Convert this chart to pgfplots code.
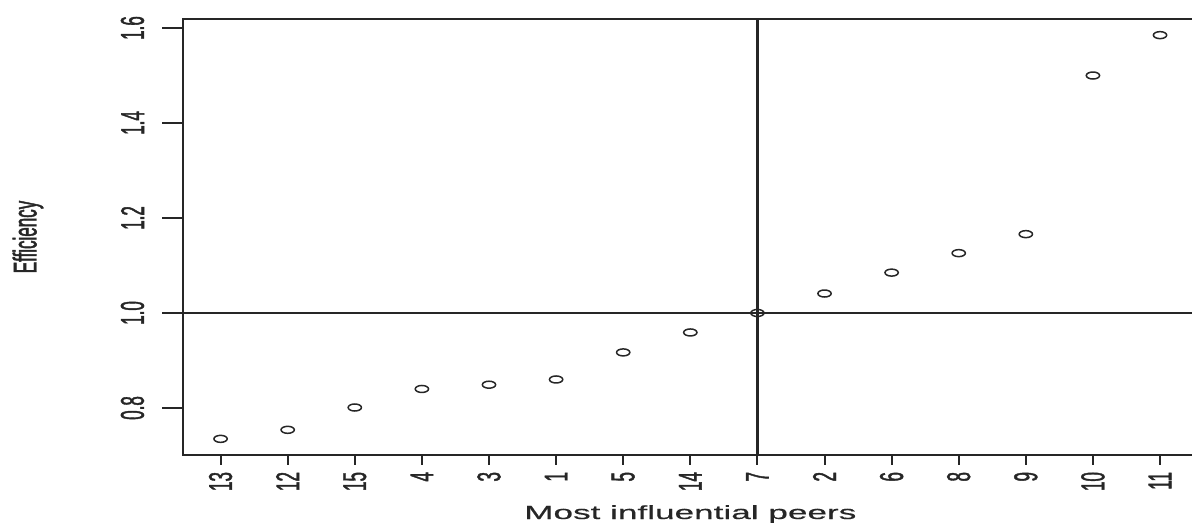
\documentclass[border=0pt]{standalone}
\usepackage{pgfplots}
\pgfplotsset{compat=1.18}
\usepackage{fontspec}
\setmainfont{Liberation Sans}
\newfontfamily\hfont[FakeStretch=1.85,FakeBold=0.6]{Liberation Sans}
\newfontfamily\vfont[FakeStretch=0.515,FakeBold=1.2]{Liberation Sans}
\begin{document}
\begin{tikzpicture}
\begin{axis}[
  at={(91.5pt,34pt)}, anchor=south west,
  scale only axis, width=507.3pt, height=218pt,
  xmin=0.44, xmax=15.56, ymin=0.701, ymax=1.619,
  axis line style={black!85, line width=1pt},
  xtick={1,...,15},
  xticklabels={13,12,15,4,3,1,5,14,7,2,6,8,9,10,11},
  ytick=\empty,
  extra y ticks={0.8,1.0,1.2,1.4,1.6},
  extra y tick labels={0.8,1.0,1.2,1.4,1.6},
  extra y tick style={major tick length=10.5pt, tick style={black!85, line width=1pt}},
  yticklabel shift=5.4pt,
  tick align=outside,
  major tick length=5pt,
  tick style={black!85, line width=1pt},
  tick pos=left,
  xticklabel style={font=\vfont\fontsize{16.5}{18}\selectfont, rotate=90, anchor=east, text=black!85},
  yticklabel style={font=\vfont\fontsize{16.5}{18}\selectfont, rotate=90, anchor=south, text=black!85},
  xlabel={Most influential peers},
  ylabel={Efficiency},
  xlabel style={font=\hfont\fontsize{9.5}{11}\selectfont, at={(axis description cs:0.5,-0.1468)}, anchor=base, text=black!85},
  ylabel style={font=\vfont\fontsize{16.5}{18}\selectfont, at={(axis description cs:-0.1528,0.5)}, anchor=center, text=black!85},
]
\addplot[black!85, line width=1.4pt] coordinates {(9,0.701) (9,1.619)};
\addplot[black!85, line width=0.8pt] coordinates {(0.44,1.0) (15.56,1.0)};
\addplot[only marks, mark=o, mark size=1.75pt, mark options={xscale=1.9, line width=0.75pt, black!85}] coordinates {
(1,0.735) (2,0.754) (3,0.801) (4,0.840) (5,0.849) (6,0.860) (7,0.917) (8,0.959)
(9,1.000) (10,1.041) (11,1.085) (12,1.126) (13,1.166) (14,1.500) (15,1.585)};
\end{axis}
\pgfresetboundingbox
\path[use as bounding box] (0,0) rectangle (596pt,261.5pt);
\end{tikzpicture}
\end{document}
